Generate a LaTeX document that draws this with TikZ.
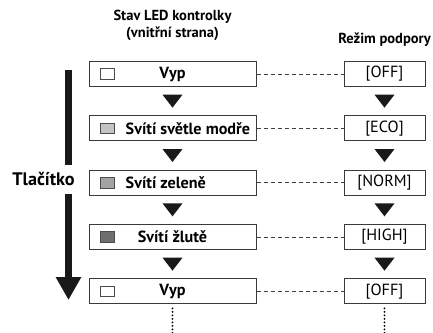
\documentclass[tikz,border=0pt]{standalone}
\usepackage{fontspec}
\setmainfont{PT Sans}
\usetikzlibrary{arrows.meta,positioning,calc}
\definecolor{ledOff}{HTML}{FFFFFF}
\definecolor{ledEco}{HTML}{C4C4C4}
\definecolor{ledNorm}{HTML}{A3A3A3}
\definecolor{ledHigh}{HTML}{6E6E6E}
\definecolor{frameGray}{HTML}{3A3A3A}
\tikzset{
  ledbox/.style={draw=frameGray, line width=0.3mm, minimum width=50.1mm,
    minimum height=7.5mm, inner sep=0pt, font=\fontsize{13.8}{16}\selectfont\bfseries},
  modebox/.style={draw=frameGray, line width=0.3mm, minimum width=24.3mm,
    minimum height=7.5mm, inner sep=0pt, font=\fontsize{13.8}{16}\selectfont},
  ledsq/.style={draw=black!70, line width=0.2mm, minimum width=4.2mm,
    minimum height=3.2mm, inner sep=0pt},
  ledtext/.style={inner sep=0pt, font=\fontsize{13.8}{16}\selectfont\bfseries},
  headtext/.style={inner sep=0pt, align=center, font=\fontsize{12.4}{14.5}\selectfont\bfseries},
  btntext/.style={fill=white, inner xsep=0.6mm, minimum height=8.7mm,
    font=\fontsize{15.5}{18}\selectfont\bfseries},
  linkline/.style={draw=black!75, line width=0.15mm, dash pattern=on 1.2mm off 0.9mm},
  moreline/.style={draw=black, line width=0.65mm, line cap=round, dash pattern=on 0pt off 1.05mm},
  pressarrow/.style={-{Triangle[length=6.9mm, width=7.2mm]}, line width=2.1mm, draw=black!90},
  downtri/.style={fill=black!90, insert path={++(-10,-6.5) -- ++(20,0) -- ++(-10,13) -- cycle}},
}
\begin{document}
\begin{tikzpicture}[x=0.3mm, y=-0.3mm]
  \useasboundingbox (0,0) rectangle (433,333);
  % LED column
  \node[ledbox] (led1) at (172.5,74) {Vyp};
  \node[ledbox, below=8.5mm of led1] (led2) {};
  \node[ledbox, below=8.5mm of led2] (led3) {};
  \node[ledbox, below=8.5mm of led3] (led4) {Svítí žlutě};
  \node[ledbox, below=8.5mm of led4] (led5) {Vyp};
  \node[ledtext, right=11.1mm of led2.west] (txt2) {Svítí světle modře};
  \node[ledtext, right=11.1mm of led3.west] (txt3) {Svítí zeleně};
  \node[ledsq, fill=ledOff, right=3.3mm of led1.west] (sq1) {};
  \node[ledsq, fill=ledEco, right=3.3mm of led2.west] (sq2) {};
  \node[ledsq, fill=ledNorm, right=3.3mm of led3.west] (sq3) {};
  \node[ledsq, fill=ledHigh, right=3.3mm of led4.west] (sq4) {};
  \node[ledsq, fill=ledOff, right=3.3mm of led5.west] (sq5) {};
  \node[headtext, above=6mm of led1] (ledhead) {Stav LED kontrolky\\(vnitřní strana)};
  % mode column
  \node[modebox, right=26.1mm of led1] (mode1) {[OFF]};
  \node[modebox, right=26.1mm of led2] (mode2) {[ECO]};
  \node[modebox, right=26.1mm of led3] (mode3) {[NORM]};
  \node[modebox, right=26.1mm of led4] (mode4) {[HIGH]};
  \node[modebox, right=26.1mm of led5] (mode5) {[OFF]};
  \node[headtext, above=4.3mm of mode1] (modehead) {Režim podpory};
  % links
  \draw[linkline] (led1) -- (mode1);
  \draw[linkline] (led2) -- (mode2);
  \draw[linkline] (led3) -- (mode3);
  \draw[linkline] (led4) -- (mode4);
  \draw[linkline] (led5) -- (mode5);
  % steps
  \path ($(led1.south)!.5!(led2.north)$) [downtri];
  \path ($(led2.south)!.5!(led3.north)$) [downtri];
  \path ($(led3.south)!.5!(led4.north)$) [downtri];
  \path ($(led4.south)!.5!(led5.north)$) [downtri];
  \path ($(mode1.south)!.5!(mode2.north)$) [downtri];
  \path ($(mode2.south)!.5!(mode3.north)$) [downtri];
  \path ($(mode3.south)!.5!(mode4.north)$) [downtri];
  \path ($(mode4.south)!.5!(mode5.north)$) [downtri];
  \coordinate[below=10mm of led5.south] (ledmore);
  \coordinate[below=10mm of mode5.south] (modemore);
  \draw[moreline] ([yshift=-1.2mm]led5.south) -- (ledmore);
  \draw[moreline] ([yshift=-1.2mm]mode5.south) -- (modemore);
  % button
  \coordinate (btntop) at (68.5,70);
  \coordinate (btnend) at (68.5,300);
  \draw[pressarrow] (btntop) -- (btnend);
  \node[btntext] (btn) at (43.5,179) {Tlačítko};
\end{tikzpicture}
\end{document}
